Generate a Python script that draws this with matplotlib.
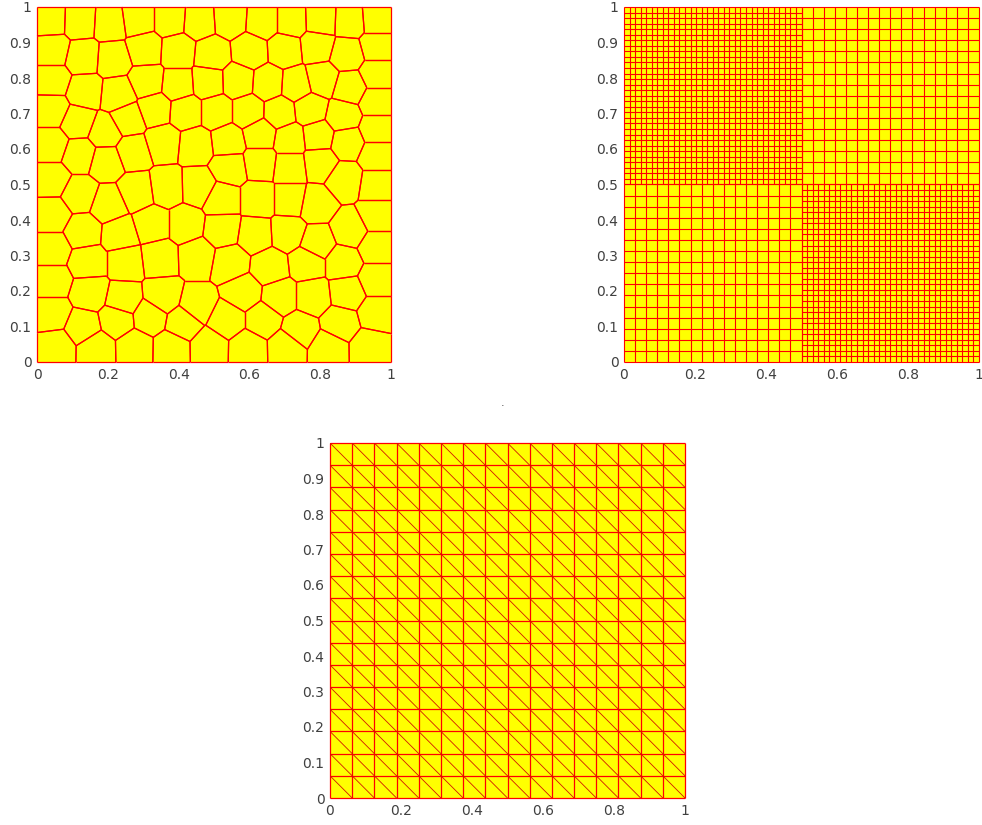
import numpy as np
import matplotlib
matplotlib.use("Agg")
import matplotlib.pyplot as plt
from matplotlib.collections import LineCollection
from matplotlib.patches import Rectangle

plt.rcParams['font.family'] = 'DejaVu Sans'

# generator points of the polygonal (Voronoi) mesh on the unit square
seed_x = [
    # top boundary row
    0.037, 0.121, 0.206, 0.285, 0.376, 0.458, 0.545, 0.638, 0.718, 0.802, 0.884, 0.960,
    # left boundary column
    0.042, 0.042, 0.040, 0.040, 0.040, 0.042, 0.042, 0.042, 0.042,
    # right boundary column
    0.960, 0.960, 0.960, 0.960, 0.960, 0.960, 0.960, 0.960, 0.960, 0.960,
    # bottom boundary row
    0.054, 0.167, 0.277, 0.379, 0.486, 0.596, 0.706, 0.822, 0.941,
    # interior
    0.130, 0.215, 0.305, 0.398, 0.494, 0.602, 0.701, 0.791, 0.876,
    0.136, 0.229, 0.311, 0.398, 0.483, 0.568, 0.653, 0.732, 0.805, 0.884,
    0.116, 0.192, 0.257, 0.333, 0.421, 0.506, 0.596, 0.686, 0.771, 0.864,
    0.121, 0.195, 0.271, 0.356, 0.449, 0.540, 0.630, 0.715, 0.794, 0.876,
    0.545, 0.630, 0.715, 0.799, 0.870,
    0.121, 0.201, 0.282, 0.367, 0.455,
    0.523, 0.624, 0.715, 0.788,
    0.130, 0.234, 0.325, 0.418, 0.525, 0.616, 0.709, 0.791, 0.884,
    0.144, 0.249, 0.347, 0.452, 0.545, 0.658, 0.763, 0.864,
    0.150, 0.243, 0.356, 0.452, 0.582, 0.686, 0.780, 0.876,
    0.130, 0.226, 0.319, 0.412, 0.537, 0.638, 0.743, 0.856,
]
seed_y = [
    0.963, 0.960, 0.955, 0.966, 0.966, 0.960, 0.966, 0.960, 0.960, 0.963, 0.960, 0.966,
    0.879, 0.794, 0.709, 0.613, 0.514, 0.415, 0.319, 0.229, 0.136,
    0.890, 0.811, 0.734, 0.655, 0.582, 0.500, 0.412, 0.325, 0.232, 0.138,
    0.042, 0.040, 0.042, 0.040, 0.042, 0.040, 0.042, 0.040, 0.042,
    0.859, 0.853, 0.881, 0.876, 0.867, 0.876, 0.881, 0.890, 0.867,
    0.763, 0.754, 0.791, 0.782, 0.788, 0.791, 0.785, 0.780, 0.797, 0.774,
    0.675, 0.647, 0.684, 0.712, 0.706, 0.706, 0.706, 0.703, 0.712, 0.692,
    0.585, 0.565, 0.593, 0.619, 0.610, 0.621, 0.641, 0.627, 0.636, 0.619,
    0.548, 0.562, 0.551, 0.562, 0.514,
    0.472, 0.444, 0.480, 0.492, 0.494,
    0.458, 0.458, 0.458, 0.444,
    0.367, 0.359, 0.387, 0.387, 0.373, 0.359, 0.364, 0.336, 0.373,
    0.282, 0.282, 0.294, 0.297, 0.280, 0.268, 0.280, 0.280,
    0.195, 0.175, 0.184, 0.161, 0.195, 0.184, 0.184, 0.195,
    0.099, 0.119, 0.127, 0.110, 0.119, 0.119, 0.090, 0.110,
]

# non-matching quadrilateral mesh: cells per side of each quarter
n_coarse = 16
n_fine = 32

# structured triangular mesh: squares per side
n_tri = 16

x_ticks = [0, 0.2, 0.4, 0.6, 0.8, 1]
x_ticklabels = ['0', '0.2', '0.4', '0.6', '0.8', '1']
y_ticks = [0, 0.1, 0.2, 0.3, 0.4, 0.5, 0.6, 0.7, 0.8, 0.9, 1]
y_ticklabels = ['0', '0.1', '0.2', '0.3', '0.4', '0.5', '0.6', '0.7', '0.8', '0.9', '1']

face = '#ffff00'
edge = '#ff0000'
txt = '#404040'


def clip(poly, a, b):
    """keep the part of poly with a . p <= b"""
    out = []
    n = len(poly)
    for k in range(n):
        p, q = poly[k], poly[(k + 1) % n]
        fp, fq = a @ p - b, a @ q - b
        if fp <= 0:
            out.append(p)
        if fp * fq < 0:
            t = fp / (fp - fq)
            out.append(p + t * (q - p))
    return out


def voronoi_edges(px, py):
    pts = np.column_stack([px, py])
    square = [np.array(v, float) for v in [(0, 0), (1, 0), (1, 1), (0, 1)]]
    segs = []
    for i, s in enumerate(pts):
        poly = square
        for j, o in enumerate(pts):
            if i == j:
                continue
            a = o - s
            b = a @ (o + s) / 2
            poly = clip(poly, a, b)
            if not poly:
                break
        n = len(poly)
        for k in range(n):
            segs.append([tuple(poly[k]), tuple(poly[(k + 1) % n])])
    return segs


def grid_edges(x0, y0, size, n):
    g = np.linspace(0, size, n + 1)
    segs = []
    for t in g:
        segs.append([(x0 + t, y0), (x0 + t, y0 + size)])
        segs.append([(x0, y0 + t), (x0 + size, y0 + t)])
    return segs


def diag_edges(n):
    h = 1.0 / n
    segs = []
    # one diagonal per square, from upper-left to lower-right corner
    for k in range(-n + 1, n):
        xs = max(0, k) * h
        xe = min(n, n + k) * h
        segs.append([(xs, 1 - (xs - k * h)), (xe, 1 - (xe - k * h))])
    return segs


def style(ax):
    ax.set_xlim(0, 1)
    ax.set_ylim(0, 1)
    ax.set_xticks(x_ticks)
    ax.set_xticklabels(x_ticklabels)
    ax.set_yticks(y_ticks)
    ax.set_yticklabels(y_ticklabels)
    ax.tick_params(length=0, pad=4, labelsize=10, labelcolor=txt)
    for sp in ax.spines.values():
        sp.set_visible(False)


def draw(ax, segs, lw=0.9, color=edge, snap=None):
    ax.add_patch(Rectangle((0, 0), 1, 1, facecolor=face, edgecolor='none', zorder=2))
    lc = LineCollection(segs, colors=color, linewidths=lw, clip_on=False, zorder=3)
    if snap is not None:
        lc.set_snap(snap)
    ax.add_collection(lc)
    style(ax)


W, H = 982, 825
fig = plt.figure(figsize=(W / 100, H / 100), dpi=100)

ax1 = fig.add_axes([37 / W, 1 - 362 / H, 354 / W, 355 / H])
ax2 = fig.add_axes([624 / W, 1 - 362 / H, 355 / W, 355 / H])
ax3 = fig.add_axes([330 / W, 1 - 798 / H, 355 / W, 355 / H])

draw(ax1, voronoi_edges(seed_x, seed_y), lw=0.9)

quads = (grid_edges(0, 0, 0.5, n_coarse) + grid_edges(0.5, 0.5, 0.5, n_coarse)
         + grid_edges(0, 0.5, 0.5, n_fine) + grid_edges(0.5, 0, 0.5, n_fine))
draw(ax2, quads, lw=0.8, snap=True)

draw(ax3, grid_edges(0, 0, 1.0, n_tri), lw=0.9, snap=True)
ax3.add_collection(LineCollection(diag_edges(n_tri), colors='#d01800',
                                  linewidths=0.6, zorder=3))

fig.text(503 / W, 1 - 408 / H, '.', fontsize=8, color=txt, ha='center', va='bottom')

fig.savefig('out.png', dpi=100)
